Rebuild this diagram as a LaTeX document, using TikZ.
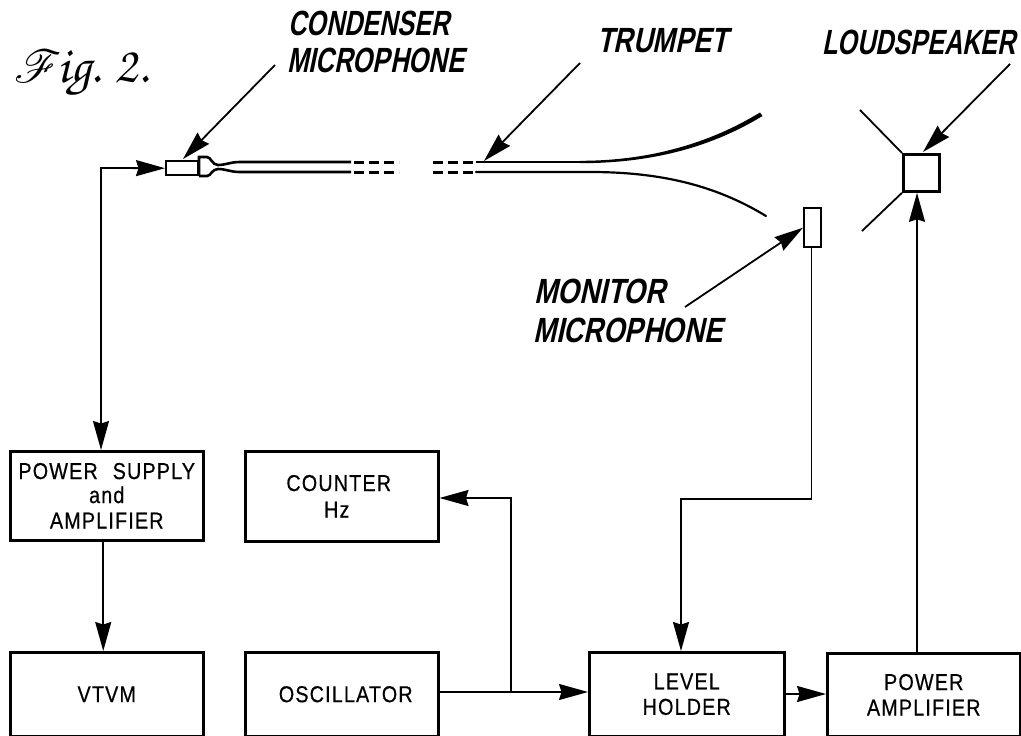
\documentclass[tikz,border=0pt]{standalone}
\usepackage[T1,TU]{fontenc}
\usepackage{graphicx}
\usepackage{fontspec}
\usepackage{mathrsfs}
\usetikzlibrary{arrows.meta}
\setmainfont{Liberation Sans}
\newfontfamily\handfont[FakeStretch=0.72,FakeSlant=0.2]{Liberation Sans}
\newfontfamily\boxfont[FakeStretch=0.86,LetterSpace=5,FakeBold=0.5]{Liberation Sans}
\tikzset{
  blockbox/.style={draw,line width=2.5pt,minimum width=#1,inner sep=0pt,align=center,font=\boxfont\fontsize{23}{25.5}\selectfont,anchor=north west},
  handlabel/.style={font=\handfont\bfseries\fontsize{35}{36}\selectfont,inner sep=0pt,align=left},
  wire/.style={line width=1.8pt},
  flow/.style={wire,-{Stealth[length=29pt,width=16pt,inset=2.5pt]}},
  dualflow/.style={wire,{Stealth[length=29pt,width=16pt,inset=2.5pt]}-{Stealth[length=29pt,width=16pt,inset=2.5pt]}},
  tubedash/.style={line width=3pt,dash pattern=on 10pt off 5pt},
  device/.style={draw,line width=2.4pt,inner sep=0pt}
}
\begin{document}
\begin{tikzpicture}[x=1pt,y=-1pt]
\useasboundingbox (0,0) rectangle (1021,736);
% blocks
\node[blockbox=193pt,minimum height=89pt] (ps) at (9,450) {POWER\hspace{.65em}SUPPLY\\[-1.5pt]and\\AMPLIFIER};
\node[blockbox=193pt,minimum height=84pt] (vtvm) at (9,651) {VTVM};
\node[blockbox=193pt,minimum height=90pt] (counter) at (244,450) {\hspace*{-6pt}COUNTER\\[1pt]\hspace*{-10pt}Hz};
\node[blockbox=193pt,minimum height=84pt] (osc) at (244,651) {\hspace*{8pt}OSCILLATOR};
\node[blockbox=195pt,minimum height=84pt] (level) at (588,651) {LEVEL\\HOLDER};
\node[blockbox=193pt,minimum height=83pt] (amp) at (826,652) {POWER\\AMPLIFIER};
% devices
\node[device,minimum width=32pt,minimum height=14pt,anchor=north west] (cmic) at (165,160) {};
\node[device,minimum width=17pt,minimum height=39pt,anchor=north west] (mmic) at (803,207) {};
\node[device,line width=2.8pt,minimum width=36pt,minimum height=37pt,anchor=north west] (spk) at (902,153) {};
% trumpet
\coordinate (tl) at (240,162); \coordinate (bl) at (240,172);
\draw[line width=2.6pt] (199,176) -- (199,157) -- (207,157) .. controls (211,157) and (212,165) .. (218,165) .. controls (226,165) and (230,162) .. (tl) -- (351,162);
\draw[line width=2.6pt] (199,176) -- (207,176) .. controls (211,176) and (212,169) .. (218,169) .. controls (226,169) and (230,172) .. (bl) -- (351,172);
\draw[tubedash] (354,162) -- (399,162);
\draw[tubedash] (354,172) -- (399,172);
\draw[tubedash] (433,162) -- (476,162);
\draw[tubedash] (433,172) -- (476,172);
\draw[line width=2.4pt] (476,162) -- (580,162);
\fill (580,160.8) .. controls (650,160.8) and (710,143) .. (760,112.5) -- (762.5,116) .. controls (710,148) and (650,163.2) .. (580,163.2) -- cycle;
\draw[line width=2.2pt,line cap=round] (476,172) -- (590,172) .. controls (660,172) and (715,185) .. (766,216);
% horn
\coordinate (h1) at (860,110); \coordinate (h2) at (862,231);
\draw[line width=1.8pt] (h1) -- (spk.north west);
\draw[line width=1.8pt] (h2) -- (spk.south west);
% labels
\node[handlabel,anchor=west] (lc1) at (288,23.5) {CONDENSER};
\node[handlabel,anchor=west] (lc2) at (287,60) {\scalebox{1.02}[1]{MICROPHONE}};
\node[handlabel,anchor=west] (lt) at (597,41) {\scalebox{1.07}[1]{TRUMPET}};
\node[handlabel,anchor=west] (ll) at (822,42) {LOUDSPEAKER};
\node[handlabel,anchor=west] (lm1) at (534,291) {\scalebox{1.11}[1]{MONITOR}};
\node[handlabel,anchor=west] (lm2) at (533,330) {\scalebox{1.09}[1]{MICROPHONE}};
\node[anchor=west,inner sep=0pt] (fig) at (14,74) {\scalebox{4.6}{$\mathscr{F}$}\hspace{-4pt}\fontencoding{T1}\fontfamily{pzc}\fontseries{mb}\fontshape{it}\fontsize{52}{52}\selectfont ig. 2.};
% pointers
\coordinate (pc) at (275,65); \coordinate (pct) at (183,159);
\coordinate (pt) at (580,63); \coordinate (ptt) at (484,161);
\coordinate (pl) at (1010,64); \coordinate (plt) at (923,152);
\coordinate (pm) at (685,307);
\draw[flow] (pc) -- (pct);
\draw[flow] (pt) -- (ptt);
\draw[flow] (pl) -- (plt);
\draw[flow] (pm) -- (mmic.west);
% wiring
\coordinate (corner) at (101,168);
\draw[dualflow] (ps.north -| corner) -- (corner) -- (cmic.west);
\draw[flow] ([xshift=-3.5pt]ps.south) -- ([xshift=-3.5pt]vtvm.north);
\coordinate (tee) at (511,692);
\draw[wire] (osc.east |- tee) -- (tee);
\draw[flow] (tee) -- (level.west |- tee);
\coordinate (cc) at (511,498);
\draw[flow] (tee) -- (cc) -- (counter.east |- cc);
\coordinate (m1) at (811.5,499); \coordinate (m2) at (681,499);
\draw[flow] (mmic.south -| m1) -- (m1) -- (m2) -- (level.north -| m2);
\coordinate (la) at (800,694);
\draw[flow] (level.east |- la) -- (amp.west |- la);
\coordinate (up) at (917,400);
\draw[flow] (amp.north -| up) -- (spk.south -| up);
\end{tikzpicture}
\end{document}
